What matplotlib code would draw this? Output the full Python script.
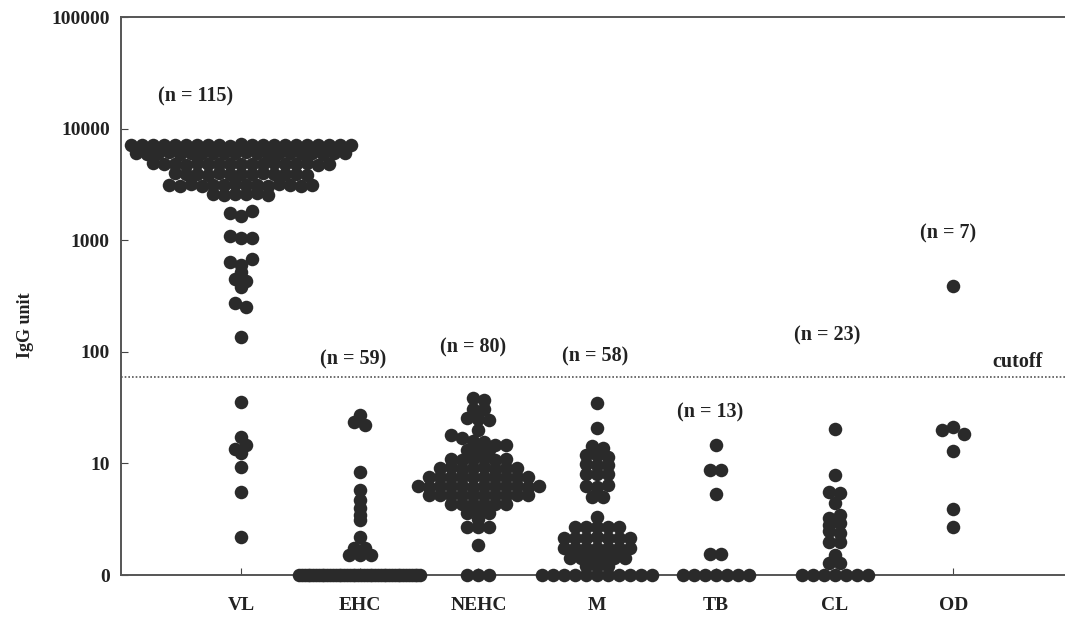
import numpy as np
import matplotlib
matplotlib.use("Agg")
import matplotlib.pyplot as plt
from matplotlib.ticker import NullLocator

plt.rcParams["font.family"] = ["Liberation Serif", "DejaVu Serif"]
plt.rcParams["font.weight"] = "bold"

# groups and labels
groups = ["VL", "EHC", "NEHC", "M", "TB", "CL", "OD"]
n_text = ["(n = 115)", "(n = 59)", "(n = 80)", "(n = 58)", "(n = 13)", "(n = 23)", "(n = 7)"]

# IgG units per patient (0 = below detection)
vl = [
    7180, 7100, 7150, 7060, 7200, 7120, 7090, 7170, 7130, 7050, 7210,
    7140, 7080, 7160, 7110, 7190, 7070, 7130, 7150, 7100, 7180,
    6100, 5980, 6050, 6120, 5960, 6020, 6080, 6000, 6060, 5990,
    6110, 6030, 5970, 6070, 6040, 6090, 6010, 5950, 6060, 6030,
    4880, 4790, 4850, 4760, 4900, 4810, 4840, 4770, 4860, 4820,
    4780, 4890, 4800, 4830, 4870, 4750, 4810,
    3960, 3890, 3940, 3870, 3990, 3910, 3930, 3880, 3970, 3900, 3950, 3920, 3860,
    3150, 3090, 3170, 3080, 3140, 3110, 3160, 3100, 3130, 3070, 3180, 3120, 3090, 3150,
    2620, 2560, 2600, 2580, 2630, 2550,
    1750, 1650, 1827, 1100, 1046, 1046, 638, 600, 680, 519, 449, 431,
    381, 273, 252, 136,
    35.5, 17.2, 13.5, 14.5, 12.4, 9.3, 5.5, 2.2,
]
ehc = [
    27, 23.5, 22, 8.4, 5.8, 4.7, 4.0, 3.45, 3.1, 2.2, 1.75, 1.75, 1.5, 1.5, 1.5,
    0, 0, 0, 0, 0, 0, 0, 0, 0, 0, 0, 0, 0, 0, 0, 0, 0, 0, 0, 0, 0, 0,
    0, 0, 0, 0, 0, 0, 0, 0, 0, 0, 0, 0, 0, 0, 0, 0, 0, 0, 0, 0, 0, 0,
]
nehc = [
    38.5, 37, 31, 31, 25.5, 25, 24.5, 20, 18, 17, 16, 15.5, 14.6, 14.6,
    13.3, 13.1, 13.2,
    11.0, 10.8, 10.9, 11.1, 10.8, 10.9,
    9.1, 9.2, 9.0, 9.1, 9.2, 9.0, 9.1, 9.1,
    7.6, 7.5, 7.55, 7.6, 7.5, 7.55, 7.6, 7.5, 7.55, 7.6,
    6.3, 6.2, 6.27, 6.3, 6.25, 6.2, 6.3, 6.27, 6.25, 6.3, 6.2, 6.27,
    5.2, 5.25, 5.2, 5.18, 5.22, 5.2, 5.25, 5.2, 5.18, 5.22,
    4.35, 4.3, 4.33, 4.35, 4.3, 4.33,
    3.6, 3.62, 3.58,
    3.2, 2.7, 2.7, 2.7, 1.86,
    0, 0, 0,
]
m = [
    34.8, 20.8, 14.3, 13.8, 12.0, 11.8, 11.4, 9.9, 9.7, 9.6,
    8.0, 8.0, 8.1, 6.3, 6.2, 6.4, 5.0, 5.0,
    3.3, 2.7, 2.7, 2.72, 2.68, 2.7,
    2.15, 2.15, 2.13, 2.17, 2.15, 2.14, 2.16,
    1.75, 1.76, 1.74, 1.75, 1.75, 1.76, 1.74,
    1.42, 1.41, 1.43, 1.42, 1.42, 1.41,
    1.2, 1.2, 1.21,
    0, 0, 0, 0, 0, 0, 0, 0, 0, 0, 0,
]
tb = [14.6, 8.7, 8.7, 5.3, 1.55, 1.55, 0, 0, 0, 0, 0, 0, 0]
cl = [20.3, 7.9, 5.5, 5.4, 4.4, 3.25, 3.45, 2.8, 2.9, 2.5, 2.4, 1.98, 1.98,
      1.5, 1.28, 1.28, 0, 0, 0, 0, 0, 0, 0]
od = [389, 19.9, 21, 18.5, 13, 3.9, 2.7]
series = [vl, ehc, nehc, m, tb, cl, od]

cutoff = 60

# layout
n_label_dx = [-0.38, -0.056, -0.045, -0.018, -0.049, -0.063, -0.044]
n_label_y = [19200, 84.5, 110, 90, 28.3, 141, 1160]
row_max_width = [230, 121, 140, 115, 70, 70, 40]
dot_spacing = 11.0
ink = "#222222"

fig = plt.figure(figsize=(10.65, 6.19), dpi=100)
ax = fig.add_axes([121 / 1065, 44 / 619, 944 / 1065, 558 / 619])
ax.set_yscale("log")
ax.set_ylim(1, 1e5)
ax.set_xlim(-1.01, 6.94)


def row_layout(vals, center, max_width, gap_px=4.0):
    """Prism-like dot plot: points at nearly the same height share a row
    and are spread sideways around the group centre."""
    pts = ax.transData.transform(np.column_stack([np.full(len(vals), center), vals]))
    ypx = pts[:, 1]
    order = np.argsort(ypx, kind="stable")
    rows, cur = [], [order[0]]
    for prev, nxt in zip(order[:-1], order[1:]):
        if ypx[nxt] - ypx[prev] > gap_px:
            rows.append(cur)
            cur = []
        cur.append(nxt)
    rows.append(cur)
    xpx = pts[:, 0].copy()
    for row in rows:
        row = sorted(row)
        k = len(row)
        if k > 1:
            step = min(dot_spacing, max_width / (k - 1))
            for i, idx in enumerate(row):
                xpx[idx] += (i - (k - 1) / 2) * step
    return ax.transData.inverted().transform(np.column_stack([xpx, ypx]))[:, 0]


for i, vals in enumerate(series):
    v = np.asarray(vals, dtype=float)
    v = np.where(v > 0, v, 1.0)  # zeros sit on the "0" baseline
    x = row_layout(v, i, row_max_width[i])
    ax.scatter(x, v, s=95, c="#2a2a2a", linewidths=0, clip_on=False, zorder=3)
    ax.text(i + n_label_dx[i], n_label_y[i], n_text[i], ha="center", va="center",
            fontsize=14.5, color=ink)

ax.axhline(cutoff, color="#555555", lw=1.2, ls=(0, (1, 1.2)), zorder=2)
ax.text(6.54, 81, "cutoff", ha="center", va="center", fontsize=14.5, color=ink)

ax.set_xticks(range(len(groups)))
ax.set_xticklabels(groups)
ax.set_yticks([1, 10, 100, 1000, 10000, 100000])
ax.set_yticklabels(["0", "10", "100", "1000", "10000", "100000"])
ax.yaxis.set_minor_locator(NullLocator())
ax.tick_params(axis="x", direction="in", length=5, pad=16, labelsize=14,
               colors="#444444", labelcolor=ink)
ax.tick_params(axis="y", direction="in", length=5, pad=8, labelsize=14,
               colors="#444444", labelcolor=ink)

for side in ["left", "bottom", "top"]:
    ax.spines[side].set_color("#555555")
    ax.spines[side].set_linewidth(1.4)
ax.spines["right"].set_visible(False)

fig.text(26 / 1065, 1 - 325 / 619, "IgG unit", rotation=90, ha="center",
         va="center", fontsize=13, color=ink)

fig.savefig("out.png", dpi=100)
